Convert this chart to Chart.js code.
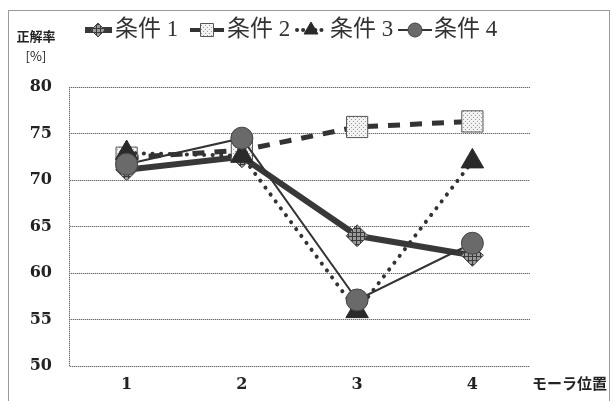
<!DOCTYPE html>
<html><head><meta charset="utf-8">
<script src="https://cdn.jsdelivr.net/npm/chart.js@4.4.0/dist/chart.umd.min.js"></script>
<style>html,body{margin:0;padding:0;background:#fff;}#wrap{width:612px;height:401px;position:relative;}</style>
</head><body><div id="wrap"><canvas id="c" width="612" height="401"></canvas></div>
<script>
const categories = ['1', '2', '3', '4'];
const seriesNames = ['条件 1', '条件 2', '条件 3', '条件 4'];
const cond1 = [71.1, 72.5, 64.0, 61.9];
const cond2 = [72.4, 73.2, 75.7, 76.3];
const cond3 = [72.9, 72.6, 55.9, 72.0];
const cond4 = [71.7, 74.5, 57.1, 63.2];
const yMin = 50, yMax = 80, yStep = 5;
const yTitle = ['正解率', '[%]'];
const xTitle = 'モーラ位置';

const ctx0 = document.getElementById('c').getContext('2d');
function makePattern(kind) {
  const c = document.createElement('canvas');
  const g = c.getContext('2d');
  if (kind === 'hatch') {
    c.width = 4; c.height = 4;
    g.fillStyle = '#9a9a9a'; g.fillRect(0, 0, 4, 4);
    g.fillStyle = '#3a3a3a'; g.fillRect(0, 0, 4, 1); g.fillRect(0, 0, 1, 4);
  } else if (kind === 'dots') {
    c.width = 4; c.height = 4;
    g.fillStyle = '#f2f2f2'; g.fillRect(0, 0, 4, 4);
    g.fillStyle = '#9a9a9a'; g.fillRect(1, 1, 1, 1); g.fillRect(3, 3, 1, 1);
  } else {
    c.width = 2; c.height = 2;
    g.fillStyle = '#666'; g.fillRect(0, 0, 1, 1); g.fillRect(1, 1, 1, 1);
    g.fillStyle = '#d0d0d0'; g.fillRect(1, 0, 1, 1); g.fillRect(0, 1, 1, 1);
  }
  return ctx0.createPattern(c, 'repeat');
}
const hatch = makePattern('hatch');
const dots = makePattern('dots');
const gridDots = makePattern('grid');

const styles = [
  {line: '#383838', width: 6, dash: [], cap: 'butt', point: 'rectRot', r: 11, fill: hatch, border: '#444'},
  {line: '#333333', width: 5, dash: [12, 10], cap: 'butt', point: 'rect', r: 15, fill: dots, border: '#555'},
  {line: '#333333', width: 4, dash: [0.1, 8.5], cap: 'round', point: 'triangle', r: 13, fill: '#2a2a2a', border: '#2a2a2a'},
  {line: '#333333', width: 2, dash: [], cap: 'butt', point: 'circle', r: 11, fill: '#6a6a6a', border: '#444'}
];
const values = [cond1, cond2, cond3, cond4];
const orders = [3, 2, 1, 0];

const datasets = values.map((v, i) => ({
  label: seriesNames[i],
  data: v,
  borderColor: styles[i].line,
  borderWidth: styles[i].width,
  borderDash: styles[i].dash,
  borderCapStyle: styles[i].cap,
  pointStyle: styles[i].point,
  pointRadius: styles[i].r,
  pointBackgroundColor: styles[i].fill,
  pointBorderColor: styles[i].border,
  pointBorderWidth: 1,
  tension: 0,
  fill: false,
  order: orders[i]
}));

function drawMarker(ctx, type, x, y, r, fill, border) {
  ctx.save();
  ctx.fillStyle = fill; ctx.strokeStyle = border; ctx.lineWidth = 1; ctx.setLineDash([]);
  ctx.beginPath();
  if (type === 'rectRot') {
    ctx.moveTo(x, y - r); ctx.lineTo(x + r, y); ctx.lineTo(x, y + r); ctx.lineTo(x - r, y); ctx.closePath();
  } else if (type === 'rect') {
    ctx.rect(x - r, y - r, 2 * r, 2 * r);
  } else if (type === 'triangle') {
    ctx.moveTo(x, y - r); ctx.lineTo(x + r * 0.87, y + r * 0.5); ctx.lineTo(x - r * 0.87, y + r * 0.5); ctx.closePath();
  } else {
    ctx.arc(x, y, r, 0, Math.PI * 2);
  }
  ctx.fill(); ctx.stroke();
  ctx.restore();
}

const decor = {
  id: 'decor',
  beforeDraw(chart) {
    const ctx = chart.ctx;
    ctx.save();
    ctx.strokeStyle = '#9a9a9a'; ctx.lineWidth = 1;
    ctx.strokeRect(8.5, 10.5, 601, 400);
    ctx.restore();
  },
  afterDraw(chart) {
    const ctx = chart.ctx;
    ctx.save();
    ctx.fillStyle = '#222';
    ctx.textAlign = 'center'; ctx.textBaseline = 'middle';
    ctx.font = 'bold 13px "Noto Sans CJK JP"';
    ctx.fillText(yTitle[0], 36, 36);
    ctx.font = '13px "Noto Sans CJK JP"';
    ctx.fillText(yTitle[1], 36, 56);
    ctx.font = 'bold 15px "Noto Sans CJK JP"';
    ctx.textAlign = 'left';
    ctx.fillText(xTitle, 532, 383);
    const items = [
      {x0: 85, x1: 112, mx: 98, mr: 7, tx: 115},
      {x0: 190, x1: 224, mx: 207, mr: 6.5, tx: 227},
      {x0: 297, x1: 326, mx: 311, mr: 8, tx: 330},
      {x0: 398, x1: 432, mx: 415, mr: 7, tx: 434}
    ];
    const ly = 30;
    items.forEach((it, i) => {
      const s = styles[i];
      ctx.save();
      ctx.strokeStyle = s.line;
      ctx.lineWidth = i === 1 ? 4 : s.width;
      ctx.lineCap = s.cap;
      ctx.setLineDash(i === 2 ? [0.1, 6] : []);
      ctx.beginPath(); ctx.moveTo(it.x0, ly); ctx.lineTo(it.x1, ly); ctx.stroke();
      ctx.restore();
      drawMarker(ctx, s.point, it.mx, ly, it.mr, s.fill, s.border);
      ctx.fillStyle = '#333';
      ctx.font = '23px "Liberation Serif", "Noto Sans CJK JP"';
      ctx.textAlign = 'left'; ctx.textBaseline = 'middle';
      ctx.fillText(seriesNames[i], it.tx, ly);
    });
    ctx.restore();
  }
};

new Chart(document.getElementById('c'), {
  type: 'line',
  data: {labels: categories, datasets: datasets},
  options: {
    responsive: false,
    animation: false,
    devicePixelRatio: 1,
    layout: {padding: {left: 0, right: 82, top: 87, bottom: 0}},
    plugins: {legend: {display: false}, tooltip: {enabled: false}, title: {display: false}},
    scales: {
      x: {
        type: 'category',
        offset: true,
        grid: {display: false, drawTicks: false},
        border: {display: false},
        ticks: {color: '#222', font: {family: '"DejaVu Serif"', size: 16, weight: 'bold'}, padding: 9},
        afterFit: s => { s.height = 35; }
      },
      y: {
        min: yMin, max: yMax,
        grid: {color: gridDots, lineWidth: 1, drawTicks: false},
        border: {display: true, color: gridDots, width: 1},
        ticks: {stepSize: yStep, color: '#222', font: {family: '"DejaVu Serif"', size: 16, weight: 'bold'}, padding: 17},
        afterFit: s => { s.width = 69; }
      }
    }
  },
  plugins: [decor]
});
</script></body></html>
